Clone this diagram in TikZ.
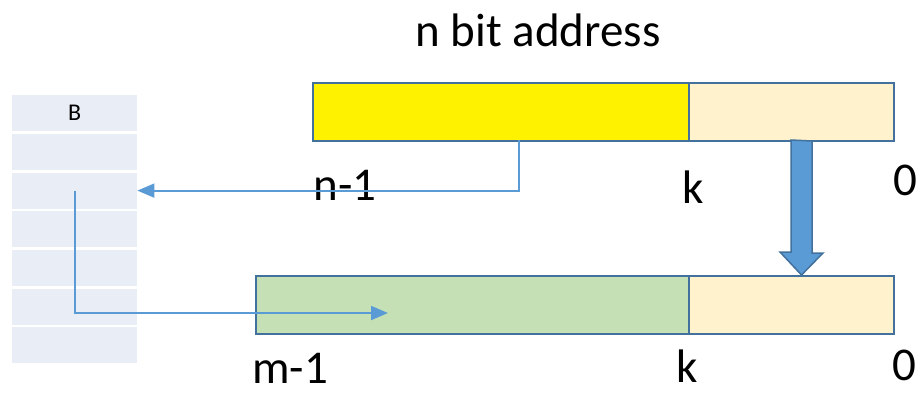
\documentclass[tikz,border=0pt]{standalone}
\usepackage{fontspec}
\setmainfont{Carlito}
\usetikzlibrary{arrows.meta}

\definecolor{barline}{HTML}{41719C}
\definecolor{linkblue}{HTML}{5B9BD5}
\definecolor{tagfill}{HTML}{FFF2CC}
\definecolor{setfill}{HTML}{C5E0B4}
\definecolor{rowfill}{HTML}{E9EDF6}

\begin{document}
\begin{tikzpicture}[x=1pt, y=-1pt,
  field/.style={draw=barline, line width=2pt, anchor=north west, inner sep=0pt, minimum height=58pt},
  row/.style={fill=rowfill, minimum width=125pt, minimum height=36pt, anchor=north west, inner sep=0pt},
  bitlabel/.style={font=\fontsize{47}{56}\selectfont, inner sep=0pt},
  link/.style={draw=linkblue, line width=1.8pt, -{Triangle[length=17pt,width=14pt]}}]
  \useasboundingbox (0,0) rectangle (923,394);

  % title
  \node[bitlabel] (title) at (538,30) {n bit address};

  % the table of rows
  \foreach \i in {1,...,7}
    \node[row] (row\i) at (12,{95+38.7*(\i-1)}) {};
  \node[font=\fontsize{24}{28}\selectfont] (btag) at (row1.center) {B};

  % address bars
  \node[field, fill=yellow, minimum width=376pt] (hi) at (312,82) {};
  \node[field, fill=tagfill, minimum width=205pt] (hilow) at (688,82) {};
  \node[field, fill=setfill, minimum width=433pt] (lo) at (255,275) {};
  \node[field, fill=tagfill, minimum width=205pt] (lolow) at (688,275) {};

  % bit positions
  \node[bitlabel] (nmsb) at (345,185) {n-1};
  \node[bitlabel] (nk) at (693,187) {k};
  \node[bitlabel] (nzero) at (905,180) {0};
  \node[bitlabel] (mmsb) at (290,368) {m-1};
  \node[bitlabel] (mk) at (687,366) {k};
  \node[bitlabel] (mzero) at (904,365) {0};

  % the low bits are copied down
  \coordinate (drop) at (801.5,140);
  \draw[draw=barline, fill=linkblue, line width=1.5pt]
    (drop) ++(-10.5,0) -- ++(0,112) -- ++(-11,0) -- (drop |- lolow.north)
    -- ++(21.5,-22) -- ++(-11,0) -- ++(0,-112) -- cycle;

  % lookup and result
  \coordinate (tap) at (519,140);
  \coordinate (hit) at (388,313);
  \draw[link] (tap) |- (row3.east);
  \draw[link] (row3.center) |- (hit);
\end{tikzpicture}
\end{document}
